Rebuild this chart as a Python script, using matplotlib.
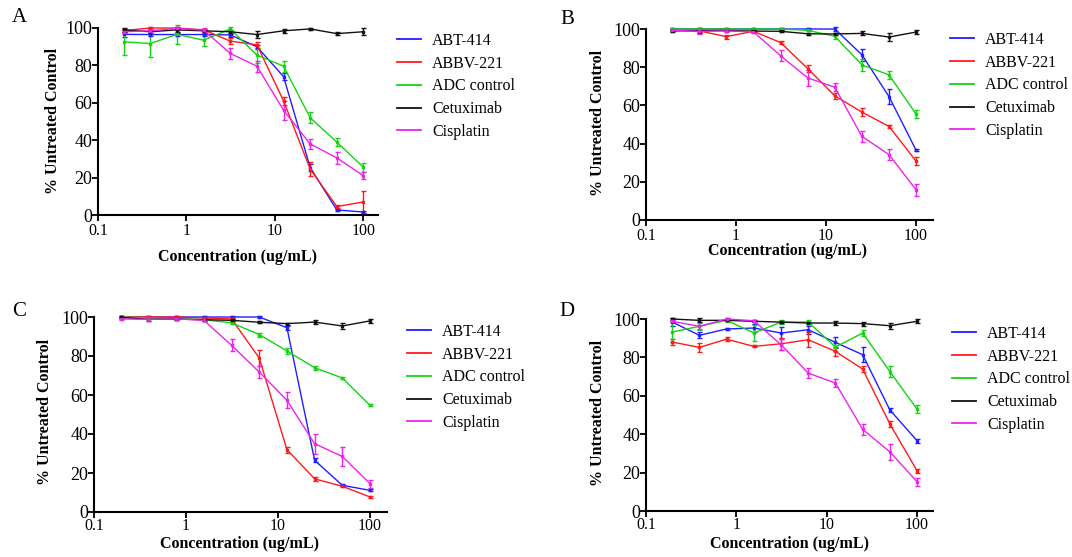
import matplotlib
matplotlib.use("Agg")
import matplotlib.pyplot as plt

plt.rcParams.update(
    {
        "font.family": ["Liberation Serif", "DejaVu Serif"],
        "axes.linewidth": 1.5,
        "xtick.major.width": 1.3,
        "ytick.major.width": 1.3,
        "xtick.major.size": 4,
        "ytick.major.size": 4,
        "xtick.direction": "out",
        "ytick.direction": "out",
    }
)

# Concentrations (ug/mL), 2-fold dilution series
conc = [0.195, 0.39, 0.78, 1.5625, 3.125, 6.25, 12.5, 25, 50, 100]

drugs = ["ABT-414", "ABBV-221", "ADC control", "Cetuximab", "Cisplatin"]
colors = ["#1f1fff", "#ff1a1a", "#14d214", "#111111", "#ee22ee"]

# Panel A: mean % untreated control and error
panel_a = {
    "ABT-414": [96.6, 96.5, 96.5, 96.5, 96.3, 90, 74, 25.4, 2.7, 1.6],
    "ABBV-221": [98.6, 100, 100, 99, 93, 91, 61, 24.6, 4.5, 7],
    "ADC control": [92.6, 91.7, 96.6, 93.5, 99.5, 85.5, 79.6, 52, 39, 25.5],
    "Cetuximab": [99, 98, 99, 98.5, 98, 96.5, 98.5, 99.5, 97, 98],
    "Cisplatin": [98, 98.5, 99.8, 98.9, 86.4, 79.6, 56, 38, 30.5, 21],
}
err_a = {
    "ABT-414": [1.5, 1, 1, 1, 1, 1, 2, 2, 0.5, 0.5],
    "ABBV-221": [1, 0.5, 0.5, 0.5, 1.5, 1.5, 2, 4, 1, 6],
    "ADC control": [7, 7, 5, 3, 1, 4, 3, 3, 2, 2.5],
    "Cetuximab": [1, 1, 1, 0.5, 1, 2, 1, 0.5, 1, 2],
    "Cisplatin": [1, 1, 1, 1, 3, 3, 5, 2.5, 3, 2],
}

# Panel B
panel_b = {
    "ABT-414": [100, 100, 100, 100, 100, 100, 100, 86.5, 64.6, 36.5],
    "ABBV-221": [99.5, 99, 96, 98.8, 92.9, 79.3, 65, 56.5, 49, 30.8],
    "ADC control": [100, 100, 100, 100, 100, 99.3, 96.2, 81.2, 76, 55.4],
    "Cetuximab": [99, 99.1, 99.2, 98.9, 98.8, 97.5, 97.4, 97.7, 95.8, 98.4],
    "Cisplatin": [99.3, 98.8, 99, 98.5, 86, 74.4, 69.5, 43.8, 34.2, 15.8],
}
err_b = {
    "ABT-414": [0.5, 0.5, 0.5, 0.5, 0.5, 0.5, 1, 3, 4, 0.5],
    "ABBV-221": [0.5, 0.5, 1, 0.5, 1, 2, 1.5, 2, 1, 2],
    "ADC control": [0.5, 0.5, 0.5, 0.5, 0.5, 0.5, 1.5, 3, 2, 2],
    "Cetuximab": [0.5, 1, 0.5, 0.5, 0.5, 0.5, 0.5, 1, 2, 1],
    "Cisplatin": [0.5, 1.5, 0.5, 0.5, 3, 4, 2, 3, 3, 3],
}

# Panel C
panel_c = {
    "ABT-414": [100, 100, 100, 100, 100, 100, 94.5, 26.5, 13.7, 11.1],
    "ABBV-221": [100, 100, 100, 99.5, 99, 79, 32, 17, 13.2, 7.7],
    "ADC control": [100, 99.5, 99, 98.6, 97, 91, 82.6, 74, 68.7, 54.7],
    "Cetuximab": [99.8, 98.8, 99, 98.6, 98.3, 97.3, 96.6, 97.4, 95.4, 98],
    "Cisplatin": [99, 98.8, 99, 98.3, 85.5, 71.8, 57.3, 35, 28.5, 14.5],
}
err_c = {
    "ABT-414": [0.5, 0.5, 0.5, 0.5, 0.5, 0.5, 1, 1, 0.5, 0.5],
    "ABBV-221": [0.5, 0.5, 0.5, 0.5, 0.5, 4, 1.5, 1, 0.5, 0.5],
    "ADC control": [0.5, 0.5, 0.5, 0.5, 0.5, 1, 1.5, 1, 0.5, 0.5],
    "Cetuximab": [0.5, 1, 0.5, 0.5, 0.5, 0.5, 0.5, 1, 1.5, 1],
    "Cisplatin": [0.5, 1, 0.5, 0.5, 3, 3, 4, 5, 5, 2],
}

# Panel D
panel_d = {
    "ABT-414": [98.4, 91.5, 94.8, 95.3, 92.7, 94.4, 87.8, 81.4, 52.6, 36.6],
    "ABBV-221": [88, 85.2, 89.5, 85.7, 87.1, 89.2, 83.1, 73.9, 45.3, 20.9],
    "ADC control": [93.2, 96.2, 99.3, 92.7, 98.4, 98.4, 85.4, 92.7, 72.6, 53],
    "Cetuximab": [100, 99.3, 99.3, 98.8, 98.4, 97.9, 97.9, 97.6, 96.5, 98.8],
    "Cisplatin": [98.8, 96.2, 100, 99.1, 86.6, 71.8, 66.6, 42.5, 30.8, 15.2],
}
err_d = {
    "ABT-414": [2, 1.5, 0.5, 2, 3, 2, 3, 4, 1, 1],
    "ABBV-221": [1.5, 2.5, 1, 0.5, 3, 4, 2.5, 1.5, 1.5, 1],
    "ADC control": [5, 2, 1, 4, 1, 1, 2, 1.5, 3, 2],
    "Cetuximab": [0.5, 1, 0.5, 0.5, 0.5, 0.5, 1, 1, 1.5, 1],
    "Cisplatin": [0.5, 1.5, 0.5, 0.5, 3, 2.5, 2, 3, 4, 2],
}

W, H = 1072, 557
fig = plt.figure(figsize=(W / 100, H / 100), dpi=100)

# (letter, data, errors, axes box in px [left, top, right, bottom], xmax,
#  letter pos, ylabel pos, xlabel pos, legend anchor, xtick pad)
panels = [
    ("A", panel_a, err_a, (98, 28, 378, 215), 146, (19, 18), (53, 121), (238, 257), (397, 33), 2),
    ("B", panel_b, err_b, (646, 29, 933, 220), 154, (567, 20), (598, 123), (788, 251), (950, 32), 1.5),
    ("C", panel_c, err_c, (94, 317, 387, 512), 153, (19, 312), (45, 412), (239, 544), (407, 324), 0),
    ("D", panel_d, err_d, (646, 319, 933, 511), 150, (567, 312), (598, 413), (789, 544), (952, 326), 0),
]

for letter, data, errs, box, xmax, lpos, ylpos, xlpos, legpos, xpad in panels:
    l, t, r, b = box
    ax = fig.add_axes([l / W, 1 - b / H, (r - l) / W, (b - t) / H])
    handles = []
    for drug, col in zip(drugs, colors):
        ax.errorbar(
            conc,
            data[drug],
            yerr=errs[drug],
            color=col,
            linewidth=1.0,
            elinewidth=1.0,
            capsize=1.8,
            capthick=1.0,
            marker="s",
            markersize=1.8,
            clip_on=False,
            zorder=3,
        )
        (h,) = ax.plot([], [], color=col, linewidth=1.3, label=drug)
        handles.append(h)

    ax.set_xscale("log")
    ax.set_xlim(0.1, xmax)
    ax.set_ylim(0, 100)
    ax.set_xticks([0.1, 1, 10, 100])
    ax.set_xticklabels(["0.1", "1", "10", "100"])
    ax.xaxis.set_minor_locator(matplotlib.ticker.NullLocator())
    ax.set_yticks([0, 20, 40, 60, 80, 100])
    ax.spines["top"].set_visible(False)
    ax.spines["right"].set_visible(False)
    ax.tick_params(axis="x", labelsize=11.5, pad=xpad)
    ax.tick_params(axis="y", labelsize=13, pad=0)

    fig.text(lpos[0] / W, 1 - lpos[1] / H, letter, fontsize=15, ha="center", va="center")
    fig.text(ylpos[0] / W, 1 - ylpos[1] / H, "% Untreated Control", fontsize=11.5,
             fontweight="bold", rotation=90, ha="center", va="center")
    fig.text(xlpos[0] / W, 1 - xlpos[1] / H, "Concentration (ug/mL)", fontsize=11.5,
             fontweight="bold", ha="center", va="center")

    ax.legend(
        handles=handles,
        loc="upper left",
        bbox_to_anchor=(legpos[0] / W, 1 - legpos[1] / H),
        bbox_transform=fig.transFigure,
        frameon=False,
        fontsize=11.5,
        borderpad=0,
        borderaxespad=0,
        handlelength=1.5,
        handletextpad=0.7,
        labelspacing=0.42,
    )

fig.savefig("out.png", dpi=100)
